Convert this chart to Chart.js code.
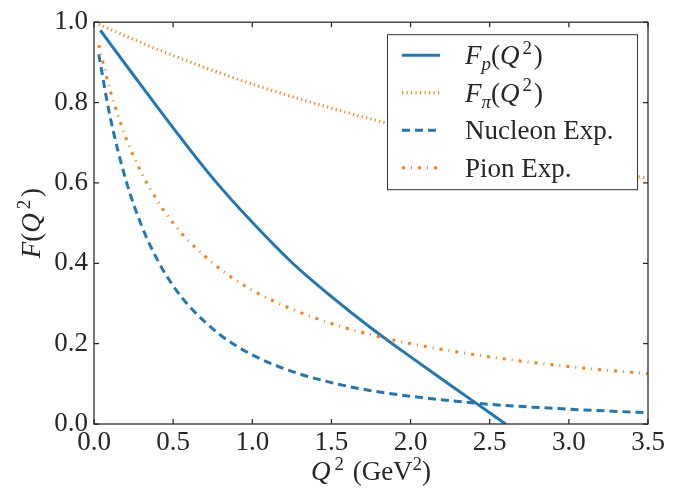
<!DOCTYPE html>
<html>
<head>
<meta charset="utf-8">
<script src="https://cdn.jsdelivr.net/npm/chart.js@4.4.0/dist/chart.umd.min.js"></script>
<style>
  body { margin: 0; background: #fff; }
  #wrap { width: 698px; height: 489px; }
</style>
</head>
<body>
<div id="wrap"><canvas id="ffChart" width="698" height="489"></canvas></div>
<script>
// tick labels
const xTicks = [0, 0.5, 1.0, 1.5, 2.0, 2.5, 3.0, 3.5];
const yTicks = [0, 0.2, 0.4, 0.6, 0.8, 1.0];

// F_p(Q^2) - solid blue
const qFp = [0.04, 0.25, 0.5, 0.75, 1.0, 1.25, 1.5, 1.75, 2.0, 2.25, 2.5, 2.6];
const fp = [0.980, 0.868, 0.737, 0.612, 0.502, 0.402, 0.317, 0.239, 0.167, 0.097, 0.028, 0.0];

// F_pi(Q^2) - dotted orange
const qFpi = [0.03, 0.25, 0.5, 0.75, 1.0, 1.25, 1.5, 1.75, 2.0, 2.25, 2.5, 2.75, 3.0, 3.25, 3.5];
const fpi = [0.995, 0.957, 0.917, 0.880, 0.846, 0.815, 0.786, 0.759, 0.733, 0.710, 0.688, 0.667, 0.647, 0.629, 0.611];

// experimental curves
const qExp = [0.03, 0.1, 0.2, 0.3, 0.4, 0.5, 0.6, 0.8, 1.0, 1.25, 1.5, 1.75, 2.0, 2.5, 3.0, 3.5];
const nucleonExp = [0.920, 0.768, 0.609, 0.494, 0.409, 0.344, 0.294, 0.221, 0.172, 0.131, 0.103, 0.083, 0.069, 0.049, 0.037, 0.028];
const pionExp = [0.943, 0.833, 0.714, 0.625, 0.556, 0.500, 0.455, 0.385, 0.333, 0.286, 0.250, 0.222, 0.200, 0.167, 0.143, 0.125];

const BLUE = '#1f77b4';
const ORANGE = '#ff7f0e';
const INK = '#262626';
const SERIF = '"Liberation Serif", "DejaVu Serif", serif';
const FS = 27;

function pts(xs, ys) {
    return xs.map((x, i) => ({ x: x, y: ys[i] }));
}

// text made of parts: {t, it, sub, sup, pre}
function partFont(p, size) {
    const s = (p.sub || p.sup) ? size * 0.7 : size;
    return (p.it ? 'italic ' : '') + s + 'px ' + SERIF;
}
function richWidth(ctx, parts, size) {
    let w = 0;
    parts.forEach(p => {
        ctx.font = partFont(p, size);
        w += ctx.measureText(p.t).width + (p.pre || 0);
    });
    return w;
}
function drawRich(ctx, parts, x, y, size) {
    let cx = x;
    parts.forEach(p => {
        ctx.font = partFont(p, size);
        let dy = 0;
        if (p.sub) dy = size * 0.22;
        if (p.sup) dy = -size * 0.38;
        cx += (p.pre || 0);
        ctx.fillText(p.t, cx, y + dy);
        cx += ctx.measureText(p.t).width;
    });
}

const legendItems = [
    { parts: [{ t: 'F', it: true }, { t: 'p', it: true, sub: true }, { t: '(' }, { t: 'Q', it: true }, { t: '2', sup: true, pre: 3 }, { t: ')', pre: 2 }], color: BLUE, dash: [], width: 3 },
    { parts: [{ t: 'F', it: true }, { t: 'π', it: true, sub: true }, { t: '(' }, { t: 'Q', it: true }, { t: '2', sup: true, pre: 3 }, { t: ')', pre: 2 }], color: ORANGE, dash: [1.2, 3.3], width: 3 },
    { parts: [{ t: 'Nucleon Exp.' }], color: BLUE, dash: [8, 5], width: 3 },
    { parts: [{ t: 'Pion Exp.' }], color: ORANGE, dash: [3, 6, 1, 6], width: 3 }
];

const framePlugin = {
    id: 'frame',
    afterDatasetsDraw(chart) {
        const ctx = chart.ctx;
        const a = chart.chartArea;
        const xs = chart.scales.x, ys = chart.scales.y;
        ctx.save();
        ctx.strokeStyle = INK;
        ctx.lineWidth = 1.25;
        ctx.strokeRect(a.left, a.top, a.right - a.left, a.bottom - a.top);
        // inward ticks on all sides
        ctx.beginPath();
        xTicks.forEach(v => {
            const px = xs.getPixelForValue(v);
            ctx.moveTo(px, a.bottom); ctx.lineTo(px, a.bottom - 5);
            ctx.moveTo(px, a.top); ctx.lineTo(px, a.top + 5);
        });
        yTicks.forEach(v => {
            const py = ys.getPixelForValue(v);
            ctx.moveTo(a.left, py); ctx.lineTo(a.left + 5, py);
            ctx.moveTo(a.right, py); ctx.lineTo(a.right - 5, py);
        });
        ctx.stroke();

        // axis titles
        ctx.fillStyle = INK;
        ctx.textBaseline = 'alphabetic';
        const xt = [{ t: 'Q', it: true }, { t: '2', sup: true, pre: 4 }, { t: ' (GeV', pre: 2 }, { t: '2', sup: true }, { t: ')' }];
        const xw = richWidth(ctx, xt, FS);
        drawRich(ctx, xt, (a.left + a.right) / 2 - xw / 2, 480, FS);

        const yt = [{ t: 'F', it: true }, { t: '(' }, { t: 'Q', it: true }, { t: '2', sup: true, pre: 4 }, { t: ')', pre: 3 }];
        const yw = richWidth(ctx, yt, FS);
        ctx.translate(40, (a.top + a.bottom) / 2);
        ctx.rotate(-Math.PI / 2);
        drawRich(ctx, yt, -yw / 2, 0, FS);
        ctx.restore();

        // legend box
        ctx.save();
        const lx = a.right - 261, ly = a.top + 12, lw = 250, lh = 155;
        ctx.fillStyle = '#fff';
        ctx.fillRect(lx, ly, lw, lh);
        ctx.strokeStyle = '#333';
        ctx.lineWidth = 1;
        ctx.strokeRect(lx + 0.5, ly + 0.5, lw, lh);
        legendItems.forEach((it, i) => {
            const rowY = ly + 21 + i * 37.5;
            ctx.strokeStyle = it.color;
            ctx.lineWidth = it.width;
            ctx.setLineDash(it.dash);
            ctx.lineCap = 'butt';
            ctx.beginPath();
            ctx.moveTo(lx + 15, rowY);
            ctx.lineTo(lx + 53, rowY);
            ctx.stroke();
            ctx.setLineDash([]);
            ctx.fillStyle = INK;
            drawRich(ctx, it.parts, lx + 78, rowY + 9, FS);
        });
        ctx.restore();
    }
};

new Chart(document.getElementById('ffChart'), {
    type: 'line',
    data: {
        datasets: [
            {
                label: 'F_p(Q^2)',
                data: pts(qFp, fp),
                borderColor: BLUE,
                borderWidth: 3,
                order: 3
            },
            {
                label: 'F_pi(Q^2)',
                data: pts(qFpi, fpi),
                borderColor: ORANGE,
                borderWidth: 3,
                borderDash: [1.2, 3.3],
                order: 2
            },
            {
                label: 'Nucleon Exp.',
                data: pts(qExp, nucleonExp),
                borderColor: BLUE,
                borderWidth: 3,
                borderDash: [8, 5],
                order: 1
            },
            {
                label: 'Pion Exp.',
                data: pts(qExp, pionExp),
                borderColor: ORANGE,
                borderWidth: 3,
                borderDash: [3, 6, 1, 6],
                order: 0
            }
        ]
    },
    options: {
        responsive: false,
        animation: false,
        devicePixelRatio: 1,
        layout: { padding: { left: 0, top: 20, right: 50, bottom: 0 } },
        elements: {
            point: { radius: 0 },
            line: { cubicInterpolationMode: 'monotone', fill: false, borderCapStyle: 'butt' }
        },
        plugins: {
            legend: { display: false },
            tooltip: { enabled: false }
        },
        scales: {
            x: {
                type: 'linear',
                min: 0,
                max: 3.5,
                afterBuildTicks: s => { s.ticks = xTicks.map(v => ({ value: v })); },
                afterFit: s => { s.height = 65; },
                grid: { display: false, drawTicks: false },
                border: { display: false },
                ticks: {
                    padding: 3,
                    color: INK,
                    font: { family: SERIF, size: FS },
                    maxRotation: 0,
                    callback: v => v.toFixed(1)
                }
            },
            y: {
                type: 'linear',
                min: 0,
                max: 1,
                afterBuildTicks: s => { s.ticks = yTicks.map(v => ({ value: v })); },
                afterFit: s => { s.width = 94; },
                grid: { display: false, drawTicks: false },
                border: { display: false },
                ticks: {
                    padding: 6,
                    color: INK,
                    font: { family: SERIF, size: FS },
                    callback: v => v.toFixed(1)
                }
            }
        }
    },
    plugins: [framePlugin]
});
</script>
</body>
</html>
